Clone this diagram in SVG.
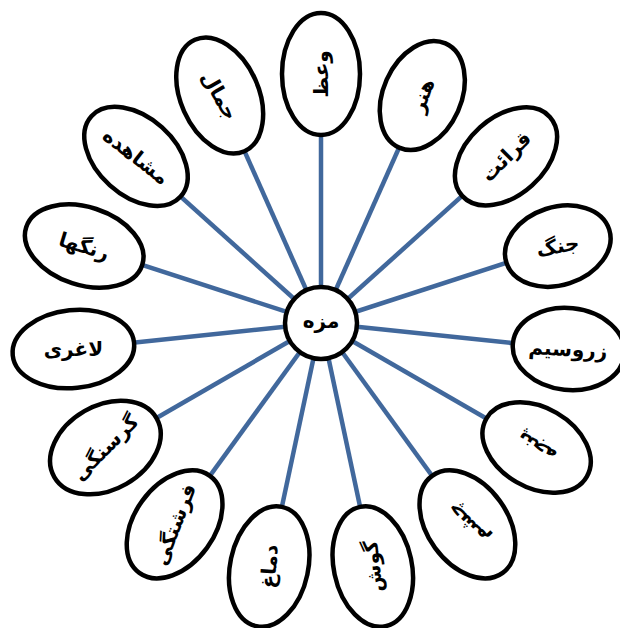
<svg xmlns="http://www.w3.org/2000/svg" width="620" height="628" viewBox="0 0 620 628">
<style>
.e{fill:#fff;stroke:#000;stroke-width:4.5}
.c line{stroke:#41689c;stroke-width:4.5}
text{font-family:"DejaVu Sans","Noto Sans",sans-serif;font-weight:bold;font-size:20px;text-anchor:middle;dominant-baseline:central;fill:#000}
</style>
<rect width="620" height="628" fill="#fff"/>
<g id="connectors" class="c">
<line x1="321" y1="323" x2="321" y2="74"/>
<line x1="321" y1="323" x2="422.3" y2="95.5"/>
<line x1="321" y1="323" x2="506" y2="156.4"/>
<line x1="321" y1="323" x2="557.8" y2="246.1"/>
<line x1="321" y1="323" x2="568.6" y2="349"/>
<line x1="321" y1="323" x2="536.6" y2="447.5"/>
<line x1="321" y1="323" x2="467.4" y2="524.4"/>
<line x1="321" y1="323" x2="372.8" y2="566.5"/>
<line x1="321" y1="323" x2="269.2" y2="566.5"/>
<line x1="321" y1="323" x2="174.6" y2="524.4"/>
<line x1="321" y1="323" x2="105.4" y2="447.5"/>
<line x1="321" y1="323" x2="73.4" y2="349"/>
<line x1="321" y1="323" x2="84.2" y2="246.1"/>
<line x1="321" y1="323" x2="136" y2="156.4"/>
<line x1="321" y1="323" x2="219.7" y2="95.5"/>
</g>
<g id="node-center"><circle class="e" cx="321" cy="323" r="36"/><text x="321" y="321" font-size="25">مزه</text></g>
<g id="node-vaz"><ellipse class="e" transform="translate(321,74)" rx="39" ry="61"/><text transform="translate(321,74) rotate(-90)">وعظ</text></g>
<g id="node-honar"><ellipse class="e" transform="translate(422.3,95.5) rotate(24)" rx="39" ry="57"/><text transform="translate(422.3,95.5) rotate(-70)">هنر</text></g>
<g id="node-qeraat"><ellipse class="e" transform="translate(506,156.4) rotate(48)" rx="39" ry="59"/><text transform="translate(506,156.4) rotate(-45)">قرائت</text></g>
<g id="node-jang"><ellipse class="e" transform="translate(557.8,246.1) rotate(72)" rx="39" ry="54"/><text transform="translate(557.8,246.1) rotate(-10)">جنگ</text></g>
<g id="node-zarosim"><ellipse class="e" transform="translate(568.6,349) rotate(96)" rx="41" ry="56"/><text transform="translate(568,349) rotate(3)">زروسیم</text></g>
<g id="node-panje"><ellipse class="e" transform="translate(536.6,447.5) rotate(120)" rx="40" ry="58"/><text transform="translate(536.6,447.5) rotate(-150)">پنجه</text></g>
<g id="node-cheshm"><ellipse class="e" transform="translate(467.4,524.4) rotate(144)" rx="40" ry="60"/><text transform="translate(467.4,524.4) rotate(-135)">چشم</text></g>
<g id="node-gush"><ellipse class="e" transform="translate(372.8,566.5) rotate(168)" rx="39" ry="61"/><text transform="translate(372.8,566.5) rotate(-96)">گوش</text></g>
<g id="node-damagh"><ellipse class="e" transform="translate(269.2,566.5) rotate(192)" rx="39" ry="61"/><text transform="translate(269.2,566.5) rotate(-86)">دماغ</text></g>
<g id="node-fereshtegi"><ellipse class="e" transform="translate(174.6,524.4) rotate(216)" rx="40" ry="60"/><text transform="translate(174.6,524.4) rotate(-69)">فرشتگی</text></g>
<g id="node-gorosnegi"><ellipse class="e" transform="translate(105.4,447.5) rotate(240)" rx="42" ry="59"/><text transform="translate(105.4,447.5) rotate(-45)">گرسنگی</text></g>
<g id="node-laghari"><ellipse class="e" transform="translate(73.4,349) rotate(264)" rx="39" ry="61"/><text transform="translate(73.4,349)">لاغری</text></g>
<g id="node-rangha"><ellipse class="e" transform="translate(84.2,246.1) rotate(288)" rx="39" ry="61"/><text transform="translate(84.2,246.1) rotate(17)">رنگها</text></g>
<g id="node-moshahede"><ellipse class="e" transform="translate(136,156.4) rotate(312)" rx="39" ry="60"/><text transform="translate(136,156.4) rotate(38)">مشاهده</text></g>
<g id="node-jamal"><ellipse class="e" transform="translate(219.7,95.5) rotate(336)" rx="39" ry="61"/><text transform="translate(219.7,95.5) rotate(60)">جمال</text></g>
</svg>
